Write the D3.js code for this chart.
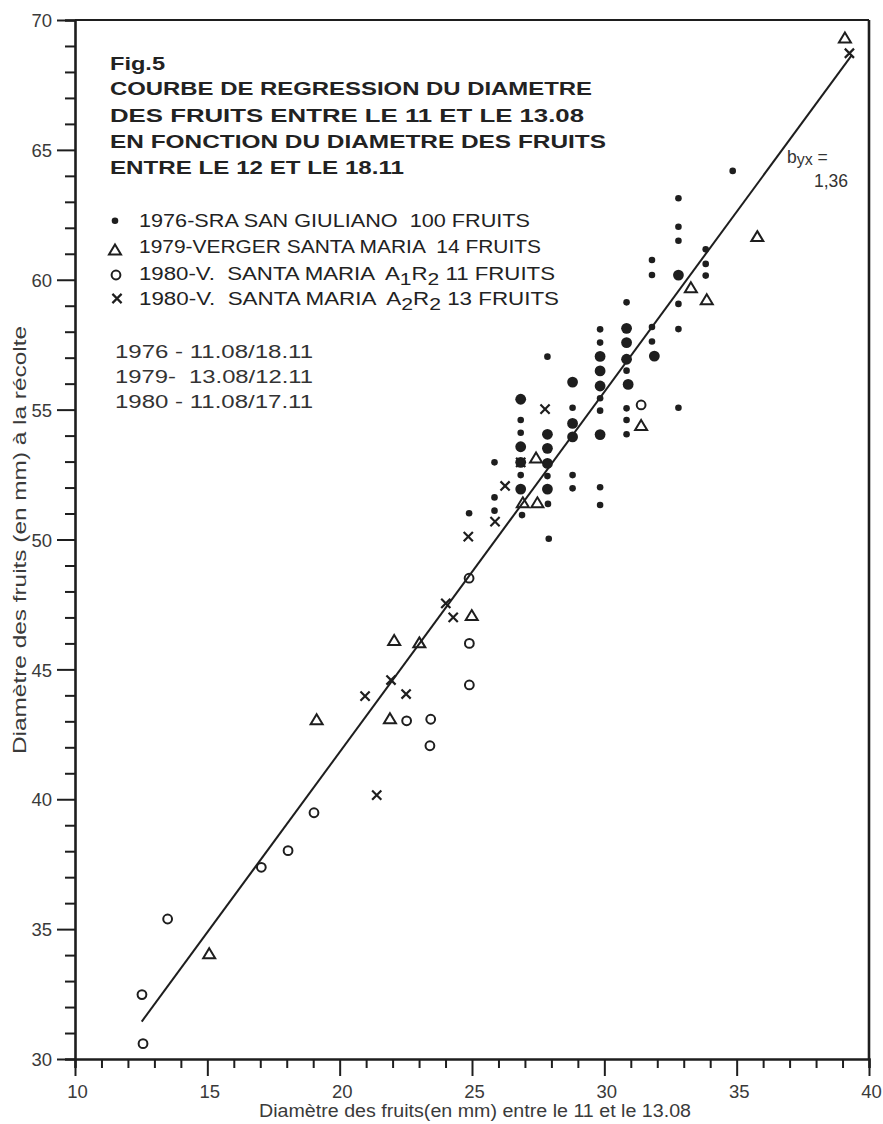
<!DOCTYPE html>
<html><head><meta charset="utf-8">
<script src="https://cdn.jsdelivr.net/npm/d3@7"></script>
<style>
html,body{margin:0;padding:0;background:#fff;}
svg{display:block;}
text{white-space:pre;}
</style></head><body>
<svg id="chart" width="883" height="1124" xmlns="http://www.w3.org/2000/svg"></svg>
<script>
// ---------------- DATA ----------------
const xTickValues = d3.range(10, 41, 1);
const xTickLabels = [10, 15, 20, 25, 30, 35, 40];
const yTickValues = d3.range(30, 71, 1);
const yTickLabels = [30, 35, 40, 45, 50, 55, 60, 65, 70];

const xTitle = "Diamètre des fruits(en mm) entre le 11 et le 13.08";
const yTitle = "Diamètre des fruits (en mm) à la récolte";

const titleLines = [
  "Fig.5",
  "COURBE DE REGRESSION DU DIAMETRE",
  "DES FRUITS ENTRE LE 11 ET LE 13.08",
  "EN FONCTION DU DIAMETRE DES FRUITS",
  "ENTRE LE 12 ET LE 18.11"
];
const legendSeries = ["dot", "triangle", "circle", "cross"];
const legendLabels = [
  [["1976-SRA SAN GIULIANO  100 FRUITS", 0]],
  [["1979-VERGER SANTA MARIA  14 FRUITS", 0]],
  [["1980-V.  SANTA MARIA  A", 0], ["1", 1], ["R", 0], ["2", 1], [" 11 FRUITS", 0]],
  [["1980-V.  SANTA MARIA  A", 0], ["2", 1], ["R", 0], ["2", 1], [" 13 FRUITS", 0]]
];
const periodLines = ["1976 - 11.08/18.11", "1979-  13.08/12.11", "1980 - 11.08/17.11"];
const slopeLabel = ["b", "yx", " =", "1,36"];

// 1976 - SRA San Giuliano : [x, y, count]  (count 2 = large dot)
const dots1976 = [
  [24.89, 51.01, 1],
  [25.85, 52.97, 1], [25.85, 51.62, 1], [25.85, 51.11, 1],
  [26.84, 55.40, 2], [26.84, 54.60, 1], [26.84, 54.11, 1], [26.84, 53.57, 2],
  [26.84, 52.97, 2], [26.84, 52.48, 1], [26.84, 51.94, 2], [26.89, 50.94, 1],
  [27.85, 57.04, 1], [27.85, 54.05, 2], [27.85, 53.51, 2], [27.85, 52.93, 2],
  [27.85, 52.44, 1], [27.85, 51.94, 2], [27.87, 51.37, 1], [27.90, 50.03, 1],
  [28.80, 56.06, 2], [28.80, 55.07, 1], [28.80, 54.47, 2], [28.80, 53.95, 2],
  [28.80, 52.48, 1], [28.80, 51.97, 1],
  [29.84, 58.09, 1], [29.84, 57.58, 1], [29.84, 57.05, 2], [29.84, 56.49, 2],
  [29.84, 55.91, 2], [29.84, 55.44, 1], [29.84, 54.96, 1], [29.84, 54.04, 2],
  [29.84, 52.01, 1], [29.84, 51.33, 1],
  [30.84, 59.13, 1], [30.84, 58.13, 2], [30.84, 57.58, 2], [30.84, 56.94, 2],
  [30.84, 56.50, 1], [30.90, 55.97, 2], [30.84, 55.05, 1], [30.84, 54.60, 1],
  [30.84, 54.05, 1],
  [31.80, 60.76, 1], [31.80, 60.18, 1], [31.80, 58.18, 1], [31.80, 57.62, 1],
  [31.89, 57.06, 2],
  [32.80, 63.14, 1], [32.80, 62.04, 1], [32.80, 61.50, 1], [32.80, 60.18, 2],
  [32.80, 59.07, 1], [32.80, 58.10, 1], [32.80, 55.07, 1],
  [33.83, 61.17, 1], [33.83, 60.61, 1], [33.83, 60.16, 1],
  [34.85, 64.19, 1]
];
// 1979 - Verger Santa Maria (triangles)
const tri1979 = [
  [39.09, 69.33], [35.78, 61.68], [33.27, 59.71], [33.87, 59.25], [31.39, 54.41],
  [27.42, 53.16], [26.92, 51.43], [27.47, 51.43], [24.99, 47.09], [22.06, 46.13],
  [23.01, 46.04], [19.13, 43.08], [21.90, 43.12], [15.07, 34.07]
];
// 1980 - V. Santa Maria A1R2 (open circles)
const circ1980 = [
  [31.39, 55.18], [24.89, 48.51], [24.90, 46.00], [24.90, 44.40], [22.53, 43.02],
  [23.44, 43.08], [23.41, 42.06], [19.03, 39.48], [18.05, 38.02], [17.04, 37.38],
  [13.50, 35.39], [12.53, 32.48], [12.57, 30.59]
];
// 1980 - V. Santa Maria A2R2 (crosses)
const cross1980 = [
  [39.26, 68.72], [27.76, 55.02], [26.84, 52.97], [26.25, 52.06], [25.87, 50.69],
  [24.86, 50.11], [24.01, 47.54], [24.29, 47.00], [21.94, 44.59], [20.96, 43.97],
  [22.51, 44.05], [21.40, 40.16]
];
// regression line end points
const regression = [[12.52, 31.44], [39.35, 68.65]];

// ---------------- DRAWING ----------------
const ink = "#1e1e1e";
const svg = d3.select("#chart");
svg.append("rect").attr("width", 883).attr("height", 1124).attr("fill", "#fff");

const x = d3.scaleLinear().domain([10, 40]).range([75, 869]);
const y = d3.scaleLinear().domain([30, 70]).range([1059, 20]);

// frame (top and right)
svg.append("line").attr("x1", x(10)).attr("x2", x(40)).attr("y1", y(70)).attr("y2", y(70))
  .attr("stroke", ink).attr("stroke-width", 2.2);
svg.append("line").attr("x1", x(40)).attr("x2", x(40)).attr("y1", y(70)).attr("y2", y(30))
  .attr("stroke", ink).attr("stroke-width", 2.6);

// x axis
const gx = svg.append("g").attr("transform", `translate(0,${y(30)})`)
  .call(d3.axisBottom(x).tickValues(xTickValues).tickSizeOuter(0).tickSize(9)
    .tickFormat(d => xTickLabels.includes(d) ? d : ""));
gx.select(".domain").attr("stroke", ink).attr("stroke-width", 2.6);
gx.selectAll(".tick line").attr("stroke", ink).attr("stroke-width", 2);
gx.selectAll(".tick line").filter(d => xTickLabels.includes(d)).attr("y2", 17);
gx.selectAll(".tick text").attr("y", 39).attr("dy", 0).attr("dx", 2)
  .attr("font-family", "'Liberation Sans', Arial, sans-serif").attr("font-size", 18.5)
  .attr("fill", "#3a3a3a");

// y axis
const gy = svg.append("g").attr("transform", `translate(${x(10)},0)`)
  .call(d3.axisLeft(y).tickValues(yTickValues).tickSizeOuter(0).tickSize(10)
    .tickFormat(d => yTickLabels.includes(d) ? d : ""));
gy.select(".domain").attr("stroke", ink).attr("stroke-width", 2.6);
gy.selectAll(".tick line").attr("stroke", ink).attr("stroke-width", 2);
gy.selectAll(".tick line").filter(d => yTickLabels.includes(d)).attr("x2", -18);
gy.selectAll(".tick text").attr("x", -23).attr("dy", "0.36em")
  .attr("font-family", "'Liberation Sans', Arial, sans-serif").attr("font-size", 18.5)
  .attr("fill", "#3a3a3a");

// axis titles
svg.append("text").attr("x", 475).attr("y", 1117).attr("text-anchor", "middle")
  .attr("font-family", "'Liberation Sans Narrow', 'Liberation Sans', Arial, sans-serif")
  .attr("font-size", 17.5).attr("fill", "#3a3a3a")
  .attr("textLength", 432).attr("lengthAdjust", "spacingAndGlyphs").text(xTitle);
svg.append("text").attr("transform", "translate(26,540) rotate(-90)").attr("text-anchor", "middle")
  .attr("font-family", "'Liberation Sans Narrow', 'Liberation Sans', Arial, sans-serif")
  .attr("font-size", 17.5).attr("fill", "#3a3a3a")
  .attr("textLength", 428).attr("lengthAdjust", "spacingAndGlyphs").text(yTitle);

// title block
const titleY = [70, 95, 121.7, 148.3, 174];
const titleW = [55, 482, 474, 496, 294];
titleLines.forEach((t, i) => {
  svg.append("text").attr("x", 110).attr("y", titleY[i])
    .attr("font-family", "'Liberation Sans', Arial, sans-serif").attr("font-weight", "bold")
    .attr("font-size", 18.5).attr("fill", "#222")
    .attr("textLength", titleW[i]).attr("lengthAdjust", "spacingAndGlyphs").text(t);
});

// marker drawers
function triPath(s, h) { return `M0,${-h/2}L${s/2},${h/2}L${-s/2},${h/2}Z`; }
function drawTri(g, cx, cy) {
  g.append("path").attr("d", triPath(12, 10)).attr("transform", `translate(${cx},${cy})`)
    .attr("fill", "none").attr("stroke", ink).attr("stroke-width", 2).attr("stroke-linejoin", "miter");
}
function drawCross(g, cx, cy) {
  const r = 4.6;
  g.append("path").attr("d", `M${-r},${-r}L${r},${r}M${-r},${r}L${r},${-r}`)
    .attr("transform", `translate(${cx},${cy})`)
    .attr("fill", "none").attr("stroke", ink).attr("stroke-width", 2.2);
}
function drawCircle(g, cx, cy) {
  g.append("circle").attr("cx", cx).attr("cy", cy).attr("r", 4.4)
    .attr("fill", "none").attr("stroke", ink).attr("stroke-width", 2);
}
function drawDot(g, cx, cy, n) {
  g.append("circle").attr("cx", cx).attr("cy", cy).attr("r", n > 1 ? 5.4 : 3.3).attr("fill", ink);
}

// legend
const legY = [226.7, 253.3, 280, 305];
const legW = [391, 402, 416, 420];
const legMarkerY = [220.7, 249.5, 275, 298.5];
const lg = svg.append("g");
legendSeries.forEach((s, i) => {
  if (s === "dot") drawDot(lg, 115, legMarkerY[i], 1);
  if (s === "triangle") drawTri(lg, 115, legMarkerY[i]);
  if (s === "circle") drawCircle(lg, 116, legMarkerY[i]);
  if (s === "cross") drawCross(lg, 117, legMarkerY[i]);
  const t = lg.append("text").attr("x", 139).attr("y", legY[i])
    .attr("font-family", "'Liberation Sans', Arial, sans-serif").attr("font-size", 18)
    .attr("fill", "#222").attr("textLength", legW[i]).attr("lengthAdjust", "spacingAndGlyphs");
  legendLabels[i].forEach(([str, sub]) => {
    const ts = t.append("tspan").text(str);
    if (sub) ts.attr("baseline-shift", "-30%").attr("font-size", 17);
  });
});

// period lines
const perY = [358.3, 383.3, 408.3];
periodLines.forEach((t, i) => {
  svg.append("text").attr("x", 115).attr("y", perY[i])
    .attr("font-family", "'Liberation Sans', Arial, sans-serif").attr("font-size", 17.5)
    .attr("fill", "#333").attr("textLength", 198).attr("lengthAdjust", "spacingAndGlyphs").text(t);
});

// slope label
const sl = svg.append("text").attr("x", 787).attr("y", 163)
  .attr("font-family", "'Liberation Sans', Arial, sans-serif").attr("font-size", 17.5).attr("fill", "#333");
sl.append("tspan").text(slopeLabel[0]);
sl.append("tspan").attr("dy", 2).attr("font-size", 16).text(slopeLabel[1]);
sl.append("tspan").attr("dy", -2).text(slopeLabel[2]);
svg.append("text").attr("x", 848).attr("y", 187).attr("text-anchor", "end")
  .attr("font-family", "'Liberation Sans', Arial, sans-serif").attr("font-size", 17.5).attr("fill", "#333")
  .text(slopeLabel[3]);

// regression line
svg.append("path").datum(regression)
  .attr("d", d3.line().x(d => x(d[0])).y(d => y(d[1])))
  .attr("fill", "none").attr("stroke", ink).attr("stroke-width", 2);

// data marks
const gm = svg.append("g");
dots1976.forEach(d => drawDot(gm, x(d[0]), y(d[1]), d[2]));
tri1979.forEach(d => drawTri(gm, x(d[0]), y(d[1])));
circ1980.forEach(d => drawCircle(gm, x(d[0]), y(d[1])));
cross1980.forEach(d => drawCross(gm, x(d[0]), y(d[1])));
</script>
</body></html>
